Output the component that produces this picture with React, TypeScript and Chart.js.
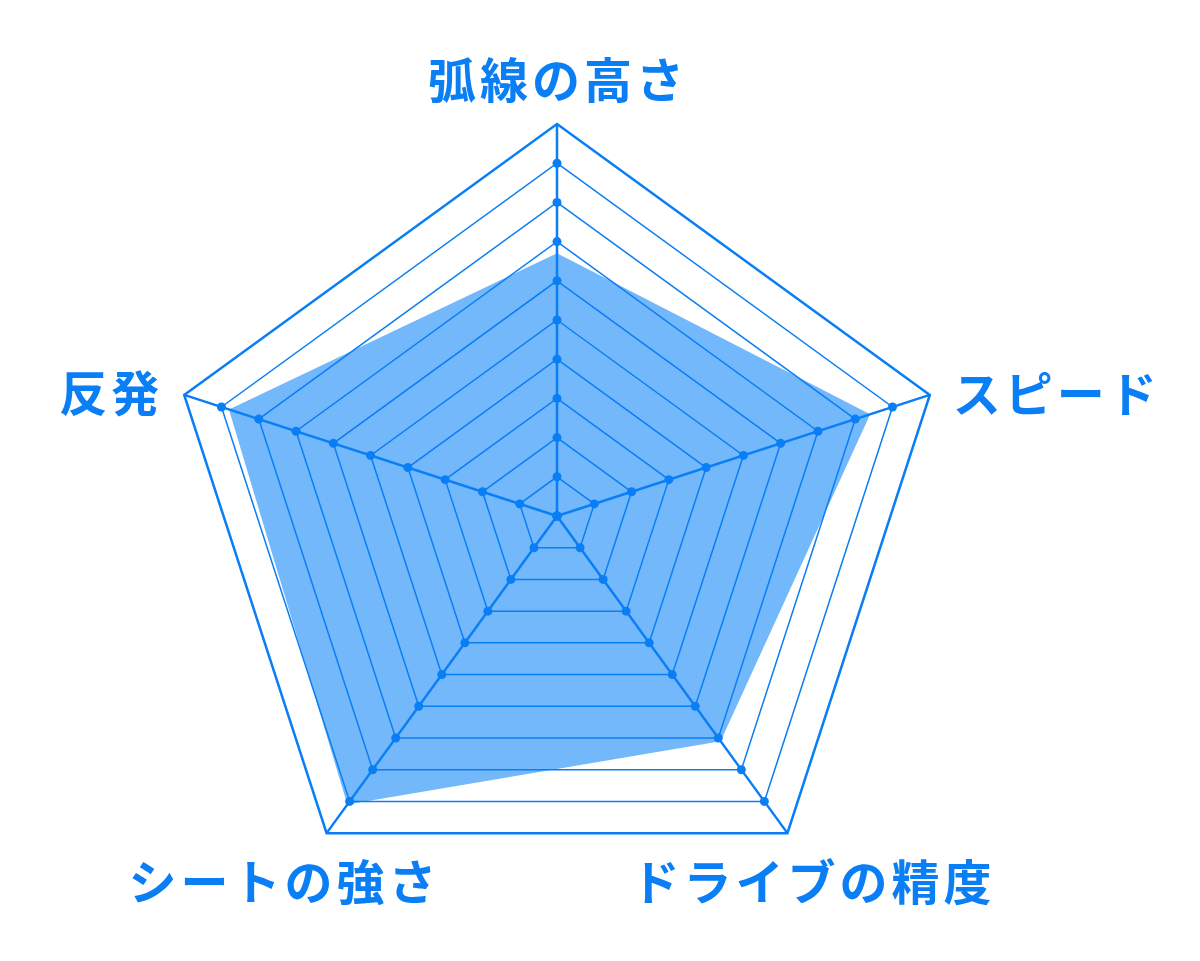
import { useEffect, useRef } from "react"
import { Chart, registerables } from "chart.js"

Chart.register(...registerables)

const axisLabels = ["弧線の高さ", "スピード", "ドライブの精度", "シートの強さ", "反発"]
const ratings = [6.7, 8.4, 7.1, 9.1, 8.8]
const ringLevels = [0, 1, 2, 3, 4, 5, 6, 7, 8, 9]
const scaleMax = 10

const LINE_COLOR = "#0a7ef5"
const FILL_COLOR = "#74b8fc"
const LABEL_SIZE = 48
const LABEL_SPACING = 4

// where each axis label sits, relative to the outer corner of its axis
const labelPlacement = [
  { align: "center", dx: -1, dy: -44 },
  { align: "left", dx: 23, dy: -1 },
  { align: "center", dx: 24, dy: 49 },
  { align: "center", dx: -44, dy: 49 },
  { align: "right", dx: -25, dy: -2 },
]

const cornerLabels = {
  id: "cornerLabels",
  afterDraw(chart: any) {
    const scale = chart.scales.r
    const ctx = chart.ctx
    ctx.save()
    ctx.font = `bold ${LABEL_SIZE}px "Noto Sans CJK JP"`
    ctx.letterSpacing = `${LABEL_SPACING}px`
    ctx.fillStyle = LINE_COLOR
    ctx.textBaseline = "middle"
    ctx.textAlign = "left"
    axisLabels.forEach((text, i) => {
      const p = scale.getPointPosition(i, scale.drawingArea)
      const { align, dx, dy } = labelPlacement[i]
      const w = ctx.measureText(text).width - LABEL_SPACING
      let x = p.x + dx
      if (align === "center") x -= w / 2
      else if (align === "right") x -= w
      ctx.fillText(text, x, p.y + dy)
    })
    ctx.restore()
  },
}

export default function App() {
  const chartRef = useRef<HTMLCanvasElement>(null)
  const chartInstance = useRef<Chart | null>(null)

  useEffect(() => {
    if (!chartRef.current) return
    if (chartInstance.current) chartInstance.current.destroy()

    // dots where each ring crosses an axis
    const ringDots = ringLevels.map((lvl) => ({
      data: axisLabels.map(() => lvl),
      showLine: false,
      fill: false,
      pointRadius: 4.5,
      pointHoverRadius: 4.5,
      pointBackgroundColor: LINE_COLOR,
      pointBorderWidth: 0,
      order: 1,
    }))

    chartInstance.current = new Chart(chartRef.current, {
      type: "radar",
      data: {
        labels: axisLabels,
        datasets: [
          ...ringDots,
          {
            data: ratings,
            fill: true,
            backgroundColor: FILL_COLOR,
            borderWidth: 0,
            pointRadius: 0,
            order: 2,
          },
        ],
      },
      options: {
        responsive: false,
        animation: false,
        layout: { padding: { top: 124, bottom: 53, left: 0, right: 86 } },
        plugins: {
          legend: { display: false },
          tooltip: { enabled: false },
        },
        scales: {
          r: {
            min: 0,
            max: scaleMax,
            ticks: { display: false, stepSize: 1 },
            pointLabels: { display: false },
            grid: {
              z: 1,
              color: LINE_COLOR,
              lineWidth: (c: any) => (c.tick && c.tick.value === scaleMax ? 2.5 : 1.5),
            },
            angleLines: { color: LINE_COLOR, lineWidth: 2.5 },
          },
        },
      },
      plugins: [cornerLabels],
    } as any)

    return () => {
      if (chartInstance.current) {
        chartInstance.current.destroy()
        chartInstance.current = null
      }
    }
  }, [])

  return (
    <div style={{ position: "absolute", left: 0, top: 0, width: 1200, height: 961, background: "#fff" }}>
      <canvas ref={chartRef} width={1200} height={961}></canvas>
    </div>
  )
}
